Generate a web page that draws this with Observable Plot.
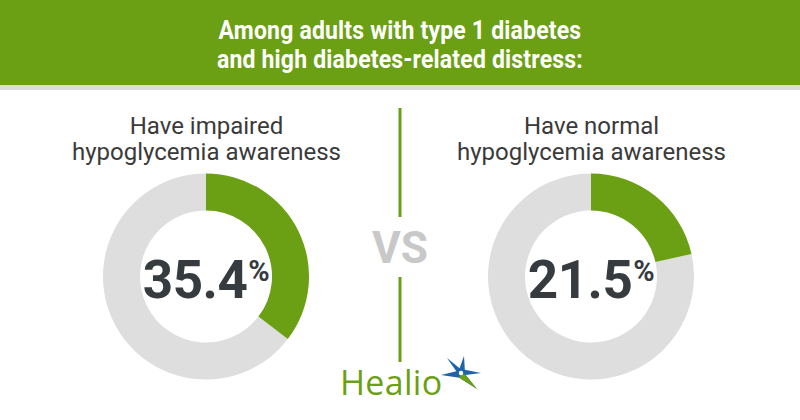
<!DOCTYPE html>
<html><head><meta charset="utf-8">
<script src="https://cdn.jsdelivr.net/npm/d3@7"></script>
<script src="https://cdn.jsdelivr.net/npm/@observablehq/plot@0.6"></script>
<style>
html,body{margin:0;padding:0;background:#fff;width:800px;height:420px;overflow:hidden;font-family:Roboto,sans-serif}
#hdr{height:85px;background:#6b9f14;color:#fff;text-align:center;font-weight:700;font-size:25px;line-height:29px;box-sizing:border-box;padding-top:16px;letter-spacing:0.2px}
#hdr span{display:inline-block;transform:scaleX(0.92);transform-origin:center}
#band{height:5px;background:#dcdcdc}
</style></head><body>
<div id="hdr"></div>
<div id="band"></div>
<div id="chart"></div>
<script>
// ---- data ----
const titleLines = ["Among adults with type 1 diabetes", "and high diabetes-related distress:"];
const groups = ["Have impaired\nhypoglycemia awareness", "Have normal\nhypoglycemia awareness"];
const values = [35.4, 21.5];
const vsLabel = "VS";
const brand = "Healio";

const GREEN = "#6b9f14";
const RING = "#dedede";
const data = groups.map((g, i) => ({group: g, value: values[i]}));

const span = document.createElement("span");
titleLines.forEach((t, i) => { if (i) span.appendChild(document.createElement("br")); span.appendChild(document.createTextNode(t)); });
document.getElementById("hdr").appendChild(span);

const CY = 186.5, R0 = 66, R1 = 103;

function donutMark(index, scales) {
  const x = scales.x;
  const g = d3.create("svg:g");
  const arc = d3.arc().innerRadius(R0).outerRadius(R1);
  const angle = d3.scaleLinear([0, 100], [0, 2 * Math.PI]);
  data.forEach(d => {
    const gg = g.append("g").attr("transform", `translate(${x(d.group)},${CY})`);
    gg.append("path").attr("d", arc({startAngle: angle(d.value), endAngle: angle(100)})).attr("fill", RING);
    gg.append("path").attr("d", arc({startAngle: 0, endAngle: angle(d.value)})).attr("fill", GREEN);
    const t = gg.append("text").attr("text-anchor", "middle").attr("y", 21.5)
      .attr("font-family", "Roboto").attr("font-weight", 700).attr("font-size", 53).attr("letter-spacing", -0.5).attr("fill", "#363b3f");
    t.append("tspan").text(d3.format(".1f")(d.value));
    t.append("tspan").attr("font-size", 29).attr("dy", -17).attr("dx", 1).text("%");
  });
  return g.node();
}

function decorMark(index, scales, channels, dims) {
  const cx = dims.width / 2;
  const g = d3.create("svg:g");
  g.append("line").attr("x1", cx).attr("x2", cx).attr("y1", 18).attr("y2", 127).attr("stroke", GREEN).attr("stroke-width", 3);
  g.append("line").attr("x1", cx).attr("x2", cx).attr("y1", 187).attr("y2", 272).attr("stroke", GREEN).attr("stroke-width", 3);
  g.append("text").attr("x", cx).attr("y", 173).attr("text-anchor", "middle")
    .attr("font-family", "Roboto").attr("font-weight", 700).attr("font-size", 44).attr("fill", "#c8c8c8").text(vsLabel);
  g.append("text").attr("x", 340).attr("y", 305).attr("text-anchor", "start").attr("font-family", "Open Sans").attr("font-weight", 500).attr("font-size", 34)
    .attr("letter-spacing", 0.3).attr("fill", GREEN).text(brand);
  // star
  const c = [461, 283];
  const pts = [[464, 266], [481, 283], [477, 299], [441, 285], [447, 268]];
  const inner = 5;
  const star = [];
  pts.forEach((p, i) => {
    star.push(p);
    const q = pts[(i + 1) % pts.length];
    const a1 = Math.atan2(p[1] - c[1], p[0] - c[0]), a2 = Math.atan2(q[1] - c[1], q[0] - c[0]);
    let da = a2 - a1; if (da < 0) da += 2 * Math.PI;
    const am = a1 + da / 2;
    star.push([c[0] + inner * Math.cos(am), c[1] + inner * Math.sin(am)]);
  });
  g.append("path").attr("d", "M" + star.map(p => p.join(",")).join("L") + "Z").attr("fill", "#1e64a8");
  g.append("path").attr("d", `M${c[0]},${c[1]}L${star[3].join(",")}L${pts[2].join(",")}L${star[5].join(",")}Z`).attr("fill", GREEN);
  g.append("circle").attr("cx", c[0]).attr("cy", c[1]).attr("r", 2.2).attr("fill", "#fff");
  return g.node();
}

const chart = Plot.plot({
  width: 800, height: 330, margin: 0,
  style: {fontFamily: "Roboto", background: "transparent"},
  x: {type: "point", domain: groups, range: [205.5, 591], padding: 0, axis: null},
  marks: [
    Plot.text(groups, {x: d => d, frameAnchor: "top", lineAnchor: "top", dy: 25, fontSize: 24, lineHeight: 26 / 24, fill: "#3a3a3a"}),
    donutMark,
    decorMark
  ]
});
document.getElementById("chart").appendChild(chart);
</script>
</body></html>
